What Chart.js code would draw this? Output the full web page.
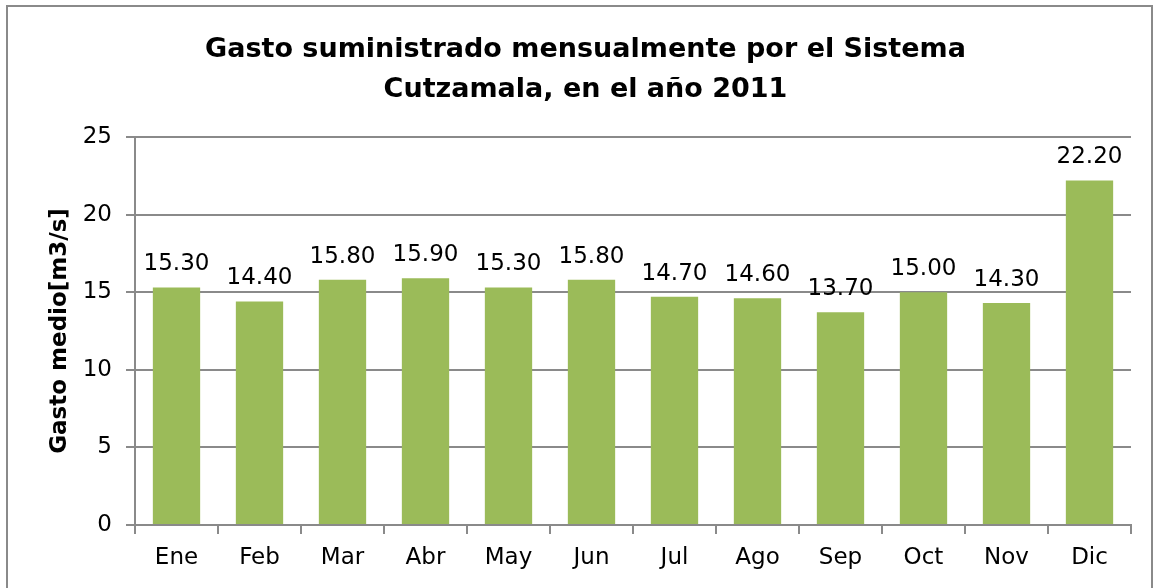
<!DOCTYPE html>
<html>
<head>
<meta charset="utf-8">
<script src="https://cdn.jsdelivr.net/npm/chart.js@4/dist/chart.umd.min.js"></script>
<style>
  html, body { margin: 0; padding: 0; background: #fff; }
  #wrap { width: 1153px; height: 588px; position: relative; }
</style>
</head>
<body>
<div id="wrap"><canvas id="cutzamalaChart" width="1153" height="588"></canvas></div>
<script>
const meses = ['Ene', 'Feb', 'Mar', 'Abr', 'May', 'Jun', 'Jul', 'Ago', 'Sep', 'Oct', 'Nov', 'Dic'];
const gasto = [15.3, 14.4, 15.8, 15.9, 15.3, 15.8, 14.7, 14.6, 13.7, 15.0, 14.3, 22.2];
const titulo = ['Gasto suministrado mensualmente por el Sistema', 'Cutzamala, en el año 2011'];
const tituloEje = 'Gasto medio[m3/s]';

const fuente = '"DejaVu Sans", sans-serif';

// marco exterior del gráfico
const marco = {
  id: 'marco',
  beforeDraw(chart) {
    const ctx = chart.ctx;
    ctx.save();
    ctx.strokeStyle = '#8a8a8a';
    ctx.lineWidth = 2;
    ctx.strokeRect(7, 6, 1145, 600);
    ctx.restore();
  }
};

// título del eje Y, girado
const ejeY = {
  id: 'ejeY',
  afterDraw(chart) {
    const ctx = chart.ctx;
    const a = chart.chartArea;
    ctx.save();
    ctx.translate(60, (a.top + a.bottom) / 2);
    ctx.rotate(-Math.PI / 2);
    ctx.font = 'bold 23px ' + fuente;
    ctx.fillStyle = '#000';
    ctx.textAlign = 'center';
    ctx.textBaseline = 'middle';
    ctx.fillText(tituloEje, 0, 0);
    ctx.restore();
  }
};

// etiquetas de valor encima de cada barra
const etiquetas = {
  id: 'etiquetas',
  afterDatasetsDraw(chart) {
    const ctx = chart.ctx;
    const meta = chart.getDatasetMeta(0);
    ctx.save();
    ctx.font = '23px ' + fuente;
    ctx.fillStyle = '#000';
    ctx.textAlign = 'center';
    ctx.textBaseline = 'alphabetic';
    meta.data.forEach((bar, i) => {
      ctx.fillText(gasto[i].toFixed(2), bar.x, bar.y - 17);
    });
    ctx.restore();
  }
};

const ctx = document.getElementById('cutzamalaChart').getContext('2d');
new Chart(ctx, {
  type: 'bar',
  data: {
    labels: meses,
    datasets: [{
      data: gasto,
      backgroundColor: '#9BBB59',
      borderWidth: 0,
      categoryPercentage: 1,
      barPercentage: 0.57
    }]
  },
  options: {
    responsive: false,
    animation: false,
    layout: { padding: { left: 40, right: 22, top: 0, bottom: 0 } },
    scales: {
      x: {
        grid: {
          display: true,
          drawOnChartArea: false,
          offset: true,
          color: '#8a8a8a',
          lineWidth: 2,
          tickLength: 9
        },
        border: { color: '#8a8a8a', width: 2 },
        ticks: { color: '#000', font: { family: fuente, size: 23 }, padding: 10 },
        afterFit(s) { s.height = 63; }
      },
      y: {
        min: 0,
        max: 25,
        ticks: { stepSize: 5, color: '#000', font: { family: fuente, size: 23 }, padding: 14 },
        grid: { color: '#8a8a8a', lineWidth: 2, tickLength: 9 },
        border: { color: '#8a8a8a', width: 2 },
        afterFit(s) { s.width = 95; }
      }
    },
    plugins: {
      legend: { display: false },
      tooltip: { enabled: false },
      title: {
        display: true,
        text: titulo,
        color: '#000',
        font: { family: fuente, size: 27, weight: 'bold', lineHeight: 1.48 },
        padding: { top: 30, bottom: 27 }
      }
    }
  },
  plugins: [marco, ejeY, etiquetas]
});
</script>
</body>
</html>
